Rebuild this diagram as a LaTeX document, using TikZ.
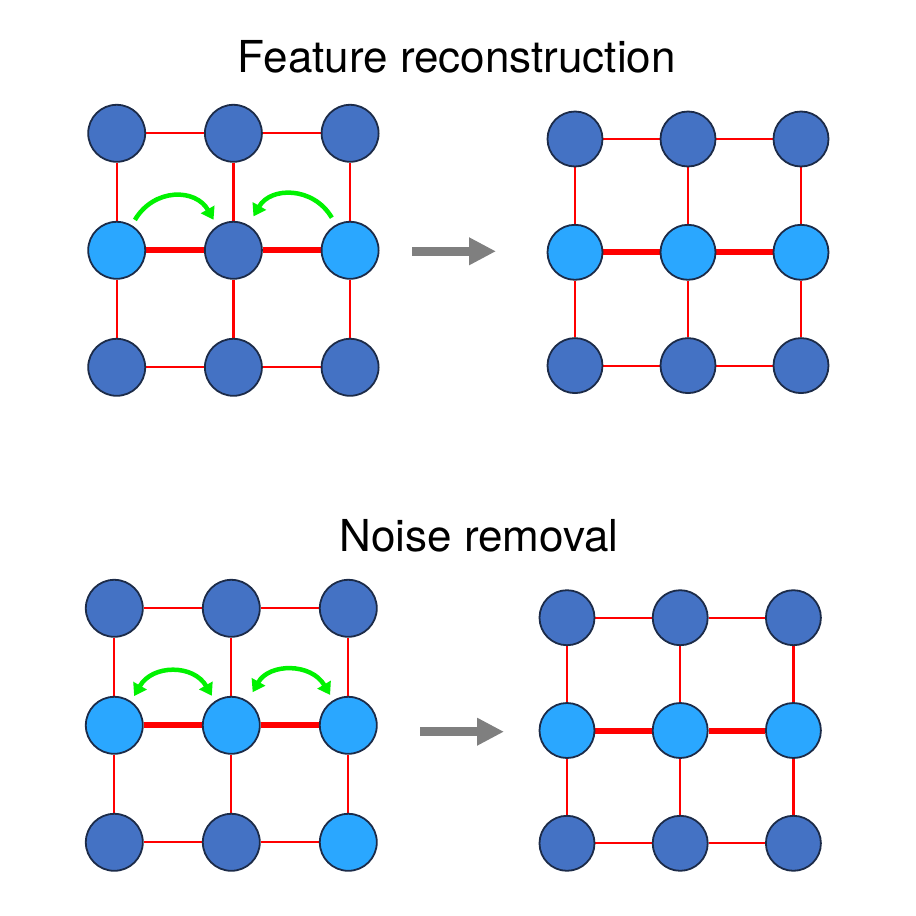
\documentclass[tikz,border=0pt]{standalone}
\usepackage{fontspec}
\setmainfont{TeX Gyre Heros}
\usetikzlibrary{arrows.meta,backgrounds}

\definecolor{nodedark}{HTML}{4472C4}
\definecolor{nodelight}{HTML}{2AA7FF}
\definecolor{nodeline}{HTML}{1C2B48}
\definecolor{hopgreen}{HTML}{00F200}
\definecolor{stepgray}{HTML}{7F7F7F}

\tikzset{
    dot/.style={circle, draw=nodeline, line width=1.8pt, fill=nodedark, inner sep=0pt},
    lit/.style={dot, fill=nodelight},
    thinedge/.style={red, line width=2.2pt},
    thickedge/.style={red, line width=6pt},
    hop/.style={draw=hopgreen, line width=4.5pt, -{Triangle[length=12pt,width=15pt]}},
    hopboth/.style={hop, {Triangle[length=12pt,width=15pt]}-{Triangle[length=12pt,width=15pt]}},
    grayarrow/.style={stepgray, line width=9pt, -{Triangle[length=27pt,width=26pt]}},
    title/.style={anchor=base, font=\fontsize{44}{50}\selectfont}
}

\begin{document}
\begin{tikzpicture}[x=1pt, y=-1pt]
        \useasboundingbox (0,0) rectangle (916,916);

        % Titles
        \node[title] (title-top) at (456.7,72.7) {Feature reconstruction};
        \node[title] (title-bot) at (479,551.7) {Noise removal};

        % Feature reconstruction: before
        \foreach \i/\j/\s in {1/1/dot,2/1/dot,3/1/dot,1/2/lit,2/2/dot,3/2/lit,1/3/dot,2/3/dot,3/3/dot}
            \node[\s, minimum size=57pt] (A-\i-\j) at ({116.7+(\i-1)*116.7},{133.3+(\j-1)*117}) {};
        % Feature reconstruction: after
        \foreach \i/\j/\s in {1/1/dot,2/1/dot,3/1/dot,1/2/lit,2/2/lit,3/2/lit,1/3/dot,2/3/dot,3/3/dot}
            \node[\s, minimum size=55pt] (B-\i-\j) at ({575+(\i-1)*113},{139+(\j-1)*113.3}) {};
        % Noise removal: before
        \foreach \i/\j/\s in {1/1/dot,2/1/dot,3/1/dot,1/2/lit,2/2/lit,3/2/lit,1/3/dot,2/3/dot,3/3/lit}
            \node[\s, minimum size=57pt] (C-\i-\j) at ({114.3+(\i-1)*117},{608.3+(\j-1)*117}) {};
        % Noise removal: after
        \foreach \i/\j/\s in {1/1/dot,2/1/dot,3/1/dot,1/2/lit,2/2/lit,3/2/lit,1/3/dot,2/3/dot,3/3/dot}
            \node[\s, minimum size=55pt] (D-\i-\j) at ({567+(\i-1)*113.2},{617.7+(\j-1)*112.8}) {};

        % Lattice edges
        \begin{pgfonlayer}{background}
            \foreach \g in {A,B,C,D} {
                \foreach \j/\e in {1/thinedge,2/thickedge,3/thinedge} {
                    \draw[\e] (\g-1-\j) -- (\g-2-\j);
                    \draw[\e] (\g-2-\j) -- (\g-3-\j);
                }
                \foreach \i in {1,2,3} {
                    \draw[thinedge] (\g-\i-1) -- (\g-\i-2);
                    \draw[thinedge] (\g-\i-2) -- (\g-\i-3);
                }
            }
        \end{pgfonlayer}

        % Message passing
        \draw[hop, shorten <=6pt, shorten >=7pt] (A-1-2.59) to[bend left=60, looseness=1.3] (A-2-2.124);
        \draw[hop, shorten <=8pt, shorten >=10pt] (A-3-2.119) to[bend right=60, looseness=1.3] (A-2-2.59);
        \draw[hopboth, shorten <=6pt, shorten >=6pt] (C-1-2.55) to[bend left=60, looseness=1.3] (C-2-2.124);
        \draw[hopboth, shorten <=10pt, shorten >=6pt] (C-2-2.56) to[bend left=60, looseness=1.3] (C-3-2.121);

        % Step arrows
        \coordinate (stepA-tail) at (412,251.3);
        \coordinate (stepA-head) at (496,251.3);
        \coordinate (stepC-tail) at (420,731.7);
        \coordinate (stepC-head) at (504,731.7);
        \draw[grayarrow] (stepA-tail) -- (stepA-head);
        \draw[grayarrow] (stepC-tail) -- (stepC-head);

    \end{tikzpicture}
\end{document}
